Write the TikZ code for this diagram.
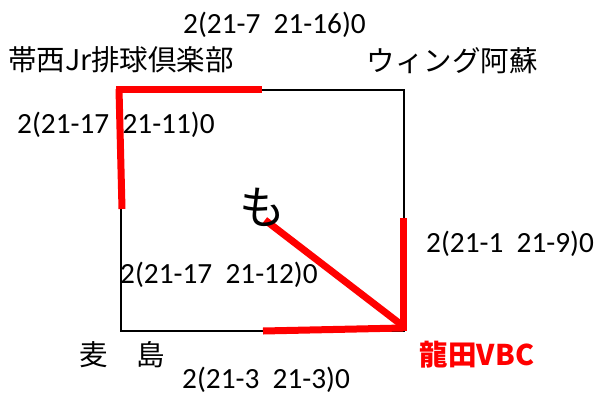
\documentclass[tikz,border=0pt]{standalone}
\usepackage{fontspec}
\setmainfont{Carlito}
\newfontfamily\jp{Noto Sans CJK JP}
\definecolor{vred}{RGB}{255,0,0}
\begin{document}
\begin{tikzpicture}[x=1pt,y=-1pt,
  score/.style={inner sep=0pt,anchor=base west,font=\fontsize{29.3}{32}\selectfont},
  team/.style={inner sep=0pt,anchor=center,font=\jp\fontsize{28.5}{32}\selectfont},
  frame/.style={line width=2pt,black},
  win/.style={line width=7pt,vred}]
\useasboundingbox (0,0) rectangle (595,397);
% corners
\coordinate (TL) at (121,89.5);
\coordinate (TR) at (404,89.5);
\coordinate (BR) at (404,331);
\coordinate (BL) at (121,331);
\draw[frame] (TL) -- (TR) -- (BR) -- (BL) -- cycle;
% red segments
\coordinate (t1) at (116,89);
\coordinate (t2) at (262,89);
\coordinate (l1) at (119,89);
\coordinate (l2) at (122,209);
\coordinate (r1) at (403,218);
\coordinate (r2) at (403,331);
\coordinate (b1) at (263,331);
\coordinate (b2) at (403,328);
\coordinate (d1) at (265,220);
\coordinate (d2) at (403,326);
\draw[win] (t1) -- (t2);
\draw[win] (l1) -- (l2);
\draw[win] (r1) -- (r2);
\draw[win] (b1) -- (b2);
\draw[win] (d1) -- (d2);
% teams
\node[team] (obi) at (121,60) {帯西Jr排球倶楽部};
\node[team] (aso) at (452,61) {ウィング阿蘇};
\node[team] (mug) at (122,355) {麦　島};
\node[team,text=vred,font=\jp\bfseries\fontsize{28.5}{32}\selectfont] (tat) at (477,355) {龍田VBC};
\node[inner sep=0pt,font=\jp\fontsize{46}{50}\selectfont] (mo) at (262,207) {も};
% scores
\node[score] (s1) at (183,33) {2(21-7~~21-16)0};
\node[score] (s2) at (17,133) {2(21-17~~21-11)0};
\node[score] (s3) at (426,252) {2(21-1~~21-9)0};
\node[score] (s4) at (120,283) {2(21-17~~21-12)0};
\node[score] (s5) at (182,388) {2(21-3~~21-3)0};
\end{tikzpicture}
\end{document}
